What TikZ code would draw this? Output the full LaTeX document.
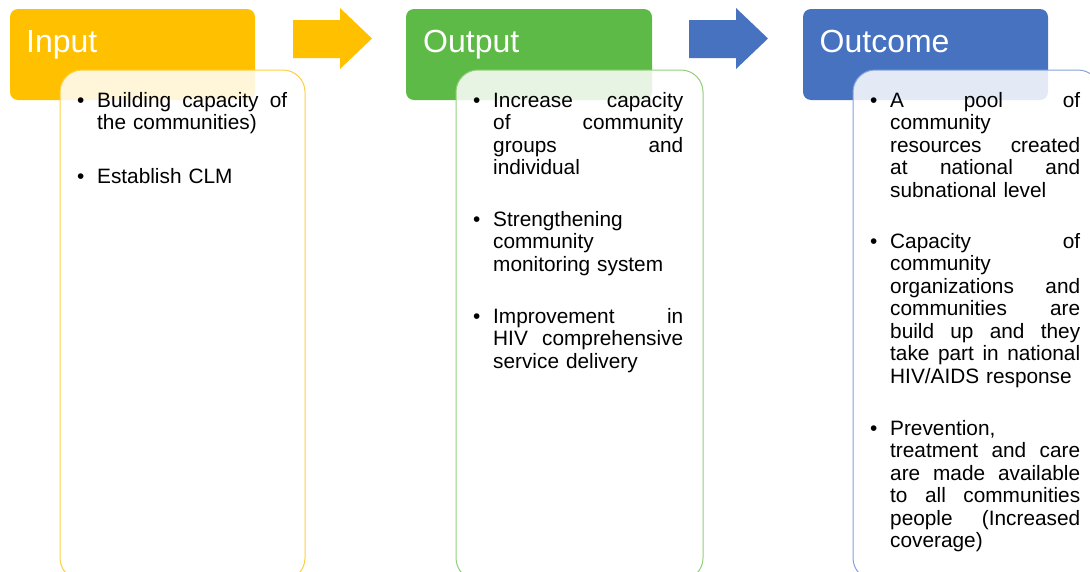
\documentclass[tikz,border=0pt]{standalone}
\usepackage{fontspec}
\setmainfont{Liberation Sans}
\definecolor{cyel}{HTML}{FFC000}
\definecolor{cgrn}{HTML}{5EBA47}
\definecolor{cblu}{HTML}{4672C0}
\definecolor{byel}{HTML}{FFCF40}
\definecolor{bgrn}{HTML}{92CF78}
\definecolor{bblu}{HTML}{86A3D8}
\newlength\colw \setlength\colw{190pt}
\newcommand\jl[1]{\leavevmode\hbox to\colw{#1}}
\newcommand\bul{\leavevmode\llap{\textbullet\hspace{12.8pt}}}
\tikzset{
  header/.style={rounded corners=8pt},
  bodybox/.style={rounded corners=22pt, fill=white, fill opacity=0.85, line width=1pt},
  title/.style={anchor=base west, inner sep=0pt, text=white, font=\fontsize{32}{36}\selectfont},
  item/.style={anchor=base west, inner sep=0pt, text width=\colw, align=left, font=\fontsize{20.8}{22.5}\selectfont, text=black},
}
\begin{document}
\begin{tikzpicture}[x=1pt,y=-1pt]
\useasboundingbox (0,0) rectangle (1090,571);
\clip (0,0) rectangle (1090,571);
% headers
\fill[header, cyel] (10,9) rectangle (255,100);
\fill[header, cgrn] (406,9) rectangle (652,100);
\fill[header, cblu] (803,9) rectangle (1048,100);
\node[title] (tIn) at (26,52) {Input};
\node[title] (tOut) at (423,52) {Output};
\node[title] (tOc) at (819.5,52) {Outcome};
% arrows
\fill[cyel] (293,20) -- (340,20) -- (340,8) -- (372,38.5) -- (340,69) -- (340,58) -- (293,58) -- cycle;
\fill[cblu] (689,20) -- (736,20) -- (736,8) -- (768,38.5) -- (736,69) -- (736,58) -- (689,58) -- cycle;
% body boxes
\draw[bodybox, draw=byel] (60,70) rectangle (305,580);
\draw[bodybox, draw=bgrn] (456,70) rectangle (703,580);
\draw[bodybox, draw=bblu] (853,70) rectangle (1100,580);
% Input items
\node[item] (i1) at (97,107) {\bul\jl{Building\hfill capacity\hfill of}\\the communities)};
\node[item] (i2) at (97,183) {\bul Establish CLM};
% Output items
\node[item] (o1) at (493,107) {\bul\jl{Increase\hfill capacity}\\\jl{of\hfill community}\\\jl{groups\hfill and}\\individual};
\node[item] (o2) at (493,226) {\bul Strengthening\\community\\monitoring system};
\node[item] (o3) at (493,323) {\bul\jl{Improvement\hfill in}\\\jl{HIV\hfill comprehensive}\\service delivery};
% Outcome items
\node[item] (c1) at (890,107) {\bul\jl{A\hfill pool\hfill of}\\community\\\jl{resources\hfill created}\\\jl{at\hfill national\hfill and}\\subnational level};
\node[item] (c2) at (890,248) {\bul\jl{Capacity\hfill of}\\community\\\jl{organizations\hfill and}\\\jl{communities\hfill are}\\\jl{build\hfill up\hfill and\hfill they}\\\jl{take\hfill part\hfill in\hfill national}\\HIV/AIDS response};
\node[item] (c3) at (890,435) {\bul Prevention,\\\jl{treatment\hfill and\hfill care}\\\jl{are\hfill made\hfill available}\\\jl{to\hfill all\hfill communities}\\\jl{people\hfill (Increased}\\coverage)};
\end{tikzpicture}
\end{document}
